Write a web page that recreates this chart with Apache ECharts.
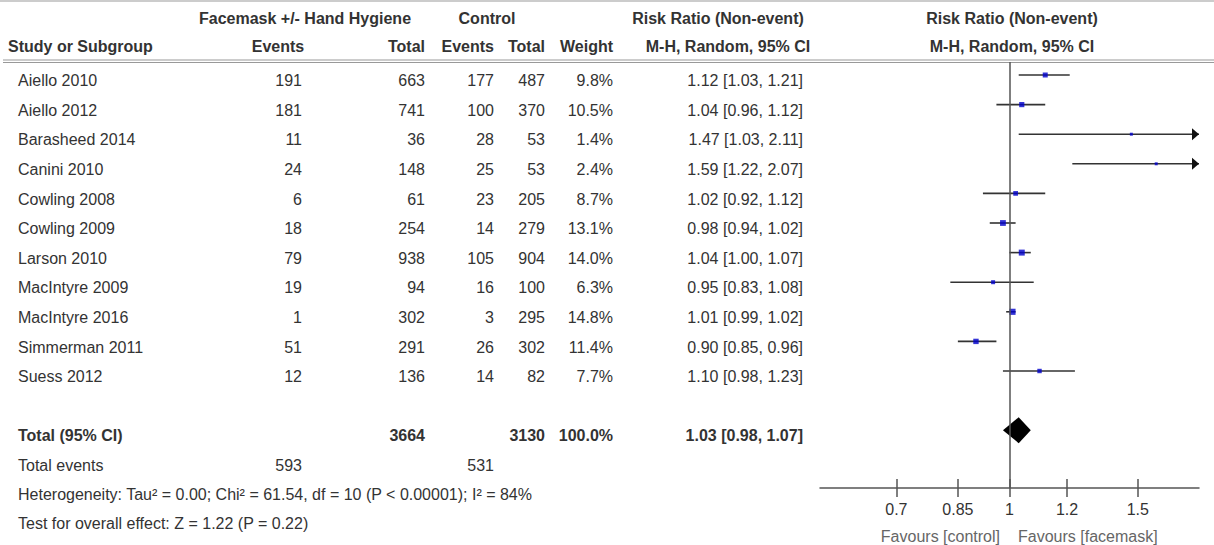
<!DOCTYPE html>
<html>
<head>
<meta charset="utf-8">
<script src="https://cdn.jsdelivr.net/npm/echarts@6/dist/echarts.min.js"></script>
<style>
  html, body { margin: 0; padding: 0; background: #fff; }
  #chart { width: 1214px; height: 545px; }
</style>
</head>
<body>
<div id="chart"></div>
<script>
// data
const studies = ['Aiello 2010', 'Aiello 2012', 'Barasheed 2014', 'Canini 2010', 'Cowling 2008', 'Cowling 2009',
  'Larson 2010', 'MacIntyre 2009', 'MacIntyre 2016', 'Simmerman 2011', 'Suess 2012']
const maskEvents = [191, 181, 11, 24, 6, 18, 79, 19, 1, 51, 12]
const maskTotal = [663, 741, 36, 148, 61, 254, 938, 94, 302, 291, 136]
const ctrlEvents = [177, 100, 28, 25, 23, 14, 105, 16, 3, 26, 14]
const ctrlTotal = [487, 370, 53, 53, 205, 279, 904, 100, 295, 302, 82]
const weights = [9.8, 10.5, 1.4, 2.4, 8.7, 13.1, 14.0, 6.3, 14.8, 11.4, 7.7]
const riskRatio = [1.12, 1.04, 1.47, 1.59, 1.02, 0.98, 1.04, 0.95, 1.01, 0.90, 1.10]
const ciLow = [1.03, 0.96, 1.03, 1.22, 0.92, 0.94, 1.00, 0.83, 0.99, 0.85, 0.98]
const ciHigh = [1.21, 1.12, 2.11, 2.07, 1.12, 1.02, 1.07, 1.08, 1.02, 0.96, 1.23]
const pooled = [1.03, 0.98, 1.07] // RR, low, high
const totals = [3664, 3130, 593, 531]
const tickValues = [0.7, 0.85, 1, 1.2, 1.5]
const tickLabels = ['0.7', '0.85', '1', '1.2', '1.5']
const axisRange = [0.55, 1.82]

// layout: row n sits at ROW_Y0 + n * ROW_H pixels
const ROW_Y0 = 45.4
const ROW_H = 29.6
const TXT = 0.19 // text sits a bit below the marks
const plotTop = 62, plotBottom = 488
const rowAt = px => (px - ROW_Y0) / ROW_H
const totalRow = 13

const col = { study: 18, mEv: 302, mTot: 425, cEv: 494, cTot: 545, weight: 613, ci: 803 }
const fmt = v => v.toFixed(2)
const ciText = (r, l, h) => `${fmt(r)} [${fmt(l)}, ${fmt(h)}]`

// table cells
const cells = []
const cell = (x, row, text, align, bold, color) => cells.push({ x, row, text: String(text), align, bold: !!bold, color: color || '#333' })

cell(305, rowAt(18), 'Facemask +/- Hand Hygiene', 'center', true)
cell(487, rowAt(18), 'Control', 'center', true)
cell(718, rowAt(18), 'Risk Ratio (Non-event)', 'center', true)
cell(1012, rowAt(18), 'Risk Ratio (Non-event)', 'center', true)
cell(8, rowAt(46), 'Study or Subgroup', 'left', true)
cell(278, rowAt(46), 'Events', 'center', true)
cell(col.mTot, rowAt(46), 'Total', 'right', true)
cell(col.cEv, rowAt(46), 'Events', 'right', true)
cell(col.cTot, rowAt(46), 'Total', 'right', true)
cell(col.weight, rowAt(46), 'Weight', 'right', true)
cell(728, rowAt(46), 'M-H, Random, 95% CI', 'center', true)
cell(1012, rowAt(46), 'M-H, Random, 95% CI', 'center', true)

studies.forEach((s, i) => {
  const r = i + 1 + TXT
  cell(col.study, r, s, 'left')
  cell(col.mEv, r, maskEvents[i], 'right')
  cell(col.mTot, r, maskTotal[i], 'right')
  cell(col.cEv, r, ctrlEvents[i], 'right')
  cell(col.cTot, r, ctrlTotal[i], 'right')
  cell(col.weight, r, weights[i].toFixed(1) + '%', 'right')
  cell(col.ci, r, ciText(riskRatio[i], ciLow[i], ciHigh[i]), 'right')
})

const tr = totalRow + TXT
cell(col.study, tr, 'Total (95% CI)', 'left', true)
cell(col.mTot, tr, totals[0], 'right', true)
cell(col.cTot, tr, totals[1], 'right', true)
cell(col.weight, tr, '100.0%', 'right', true)
cell(col.ci, tr, ciText(pooled[0], pooled[1], pooled[2]), 'right', true)
cell(col.study, rowAt(465), 'Total events', 'left')
cell(col.mEv, rowAt(465), totals[2], 'right')
cell(col.cEv, rowAt(465), totals[3], 'right')
cell(col.study, rowAt(494), 'Heterogeneity: Tau² = 0.00; Chi² = 61.54, df = 10 (P < 0.00001); I² = 84%', 'left')
cell(col.study, rowAt(523), 'Test for overall effect: Z = 1.22 (P = 0.22)', 'left')
cell(1000, rowAt(536), 'Favours [control]', 'right', false, '#666')
cell(1018, rowAt(536), 'Favours [facemask]', 'left', false, '#666')

const ln = Math.log
const xMin = ln(axisRange[0]), xMax = ln(axisRange[1])

const chart = echarts.init(document.getElementById('chart'), null, { renderer: 'svg' })

const option = {
  animation: false,
  grid: [
    { left: 0, right: 0, top: 0, bottom: 0 },
    { left: 820, right: 15, top: plotTop, bottom: 545 - plotBottom }
  ],
  xAxis: [
    { gridIndex: 0, type: 'value', min: 0, max: 1214, show: false },
    {
      gridIndex: 1, type: 'value', position: 'bottom', min: xMin, max: xMax,
      axisLine: { lineStyle: { color: '#555', width: 1.5 } },
      axisTick: { customValues: tickValues.map(ln), length: 9, lineStyle: { color: '#555', width: 1.5 } },
      axisLabel: {
        customValues: tickValues.map(ln), margin: 13, fontSize: 16, color: '#333', fontFamily: 'Liberation Sans',
        formatter: v => tickLabels[tickValues.findIndex(t => Math.abs(ln(t) - v) < 1e-6)] || ''
      },
      splitLine: { show: false }
    },
    {
      // same axis again, ticks pointing up so they cross the line
      gridIndex: 1, type: 'value', position: 'bottom', min: xMin, max: xMax,
      axisLine: { show: false },
      axisTick: { inside: true, customValues: tickValues.map(ln), length: 9, lineStyle: { color: '#555', width: 1.5 } },
      axisLabel: { show: false }, splitLine: { show: false }
    }
  ],
  yAxis: [
    { gridIndex: 0, type: 'value', inverse: true, min: rowAt(0), max: rowAt(545), show: false },
    { gridIndex: 1, type: 'value', inverse: true, min: rowAt(plotTop), max: rowAt(plotBottom), show: false }
  ],
  graphic: [
    { type: 'line', shape: { x1: 0, y1: 1, x2: 1214, y2: 1 }, style: { stroke: '#bbb', lineWidth: 1.5 } },
    { type: 'line', shape: { x1: 3, y1: 60, x2: 1214, y2: 60 }, style: { stroke: '#999', lineWidth: 1.2 } },
    { type: 'line', shape: { x1: 3, y1: 62.5, x2: 1214, y2: 62.5 }, style: { stroke: '#999', lineWidth: 1.2 } }
  ],
  series: [
    {
      // table text
      type: 'custom', xAxisIndex: 0, yAxisIndex: 0, silent: true,
      data: cells.map(c => [c.x, c.row]),
      renderItem: (params, api) => {
        const c = cells[params.dataIndex]
        const p = api.coord([api.value(0), api.value(1)])
        return {
          type: 'text', x: p[0], y: p[1],
          style: {
            text: c.text, textAlign: c.align, textVerticalAlign: 'middle', fill: c.color,
            font: `${c.bold ? 'bold ' : ''}16px "Liberation Sans", Arial, sans-serif`
          }
        }
      }
    },
    {
      // confidence intervals, arrow where they leave the axis
      type: 'custom', xAxisIndex: 1, yAxisIndex: 1, silent: true,
      data: studies.map((s, i) => [ln(ciLow[i]), ln(ciHigh[i]), i + 1]),
      renderItem: (params, api) => {
        const lo = api.value(0), hi = api.value(1), row = api.value(2)
        const a = api.coord([Math.max(lo, xMin), row])
        const b = api.coord([Math.min(hi, xMax), row])
        const kids = [{
          type: 'line', shape: { x1: a[0], y1: a[1], x2: b[0], y2: b[1] },
          style: { stroke: '#333', lineWidth: 1.6 }
        }]
        if (hi > xMax) {
          kids.push({
            type: 'polygon',
            shape: { points: [[b[0], b[1]], [b[0] - 7, b[1] - 6], [b[0] - 7, b[1] + 6]] },
            style: { fill: '#111' }
          })
        }
        return { type: 'group', children: kids }
      }
    },
    {
      type: 'scatter', xAxisIndex: 1, yAxisIndex: 1, silent: true,
      symbol: 'rect',
      data: studies.map((s, i) => ({ value: [ln(riskRatio[i]), i + 1], symbolSize: Math.max(3, Math.sqrt(weights[i]) * 1.6) })),
      itemStyle: { color: '#0000cc' },
      markLine: {
        silent: true, symbol: 'none', label: { show: false },
        lineStyle: { color: '#555', width: 1.5, type: 'solid' },
        data: [{ xAxis: 0 }]
      }
    },
    {
      // pooled estimate diamond
      type: 'custom', xAxisIndex: 1, yAxisIndex: 1, silent: true,
      data: [[ln(pooled[0]), ln(pooled[1]), ln(pooled[2]), totalRow]],
      renderItem: (params, api) => {
        const row = api.value(3)
        const c = api.coord([api.value(0), row])
        const l = api.coord([api.value(1), row])
        const h = api.coord([api.value(2), row])
        return {
          type: 'polygon',
          shape: { points: [[l[0], c[1]], [c[0], c[1] - 13], [h[0], c[1]], [c[0], c[1] + 13]] },
          style: { fill: '#000' }
        }
      }
    }
  ]
}

chart.setOption(option)
</script>
</body>
</html>
